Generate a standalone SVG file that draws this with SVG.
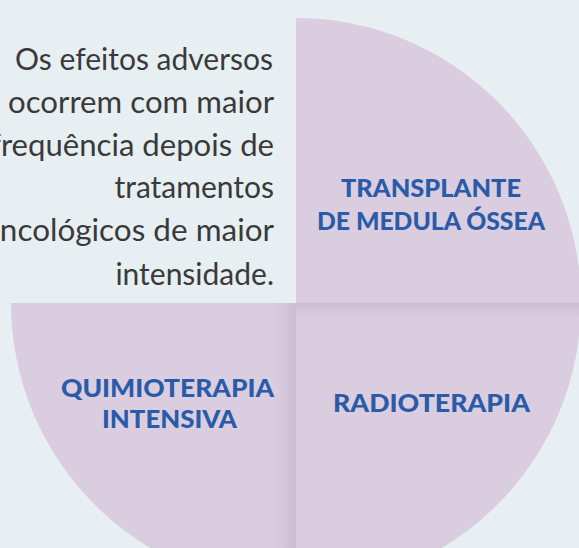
<svg xmlns="http://www.w3.org/2000/svg" width="579" height="548" viewBox="0 0 579 548">
<style>
.bg{fill:#e7eff3}
.q{fill:#dbcde0}
.lbl{font-family:Lato,"Liberation Sans",Arial,sans-serif;font-weight:900;font-size:25px;fill:#2a5ba8;text-anchor:middle}
.body{font-family:Lato,"Open Sans",sans-serif;font-size:30px;fill:#3a3a3a;text-anchor:end}
</style>
<defs>
<linearGradient id="shR" x1="0" y1="0" x2="1" y2="0">
<stop offset="0" stop-color="#6a4a78" stop-opacity="0"/>
<stop offset="1" stop-color="#6a4a78" stop-opacity="0.13"/>
</linearGradient>
<linearGradient id="shT" x1="0" y1="0" x2="0" y2="1">
<stop offset="0" stop-color="#6a4a78" stop-opacity="0.12"/>
<stop offset="1" stop-color="#6a4a78" stop-opacity="0"/>
</linearGradient>
<clipPath id="cBR"><path d="M296,303 L581,303 A285,285 0 0 1 296,588 Z"/></clipPath>
</defs>
<rect class="bg" x="0" y="0" width="579" height="548"/>
<g id="txt" class="body">
<text x="273" y="70">Os efeitos adversos</text>
<text x="274" y="113" textLength="266" lengthAdjust="spacingAndGlyphs">ocorrem com maior</text>
<text x="274" y="156" textLength="284" lengthAdjust="spacingAndGlyphs">frequência depois de</text>
<text x="274" y="198">tratamentos</text>
<text x="274" y="241" textLength="292" lengthAdjust="spacingAndGlyphs">oncológicos de maior</text>
<text x="274" y="285">intensidade.</text>
</g>
<g id="transplante">
<path class="q" d="M296,303 L296,18 A285,285 0 0 1 581,303 Z"/>
<text class="lbl" x="431" y="197" textLength="180" lengthAdjust="spacingAndGlyphs">TRANSPLANTE</text>
<text class="lbl" x="431" y="230" textLength="228" lengthAdjust="spacingAndGlyphs">DE MEDULA ÓSSEA</text>
</g>
<g id="radioterapia">
<path class="q" d="M296,303 L581,303 A285,285 0 0 1 296,588 Z"/>
<rect x="296" y="303" width="285" height="16" fill="url(#shT)" clip-path="url(#cBR)"/>
<text class="lbl" x="431.5" y="412" textLength="197" lengthAdjust="spacingAndGlyphs">RADIOTERAPIA</text>
</g>
<g id="quimioterapia">
<path class="q" d="M296,303 L296,588 A285,285 0 0 1 11,303 Z"/>
<rect x="274" y="303" width="22" height="245" fill="url(#shR)"/>
<text class="lbl" x="167.5" y="397" textLength="213" lengthAdjust="spacingAndGlyphs">QUIMIOTERAPIA</text>
<text class="lbl" x="169.5" y="428" textLength="135" lengthAdjust="spacingAndGlyphs">INTENSIVA</text>
</g>
</svg>
